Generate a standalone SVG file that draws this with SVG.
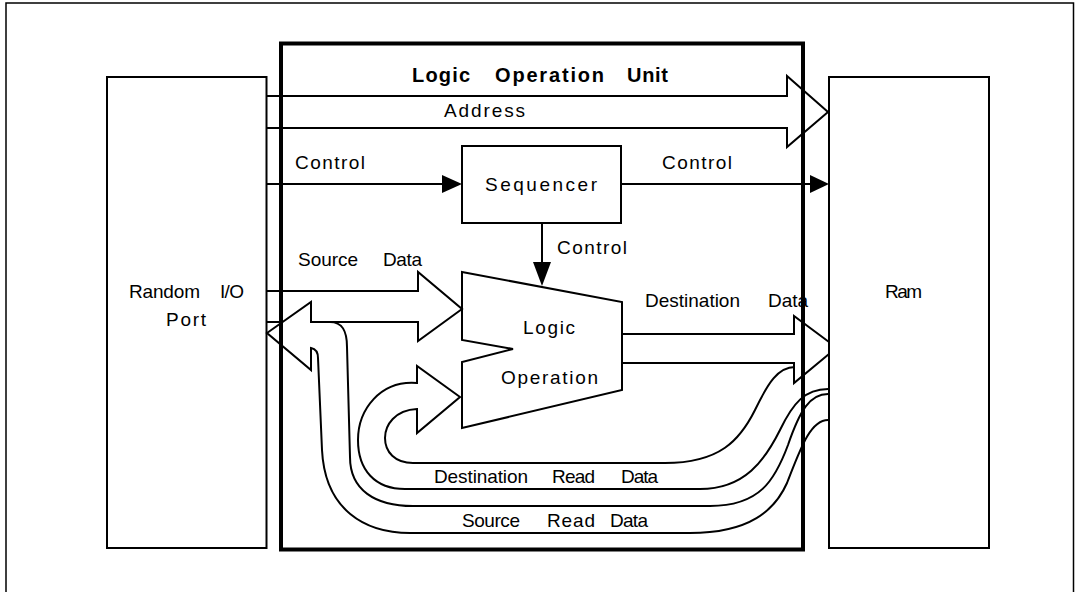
<svg xmlns="http://www.w3.org/2000/svg" width="1075" height="592" viewBox="0 0 1075 592">
<style>
  .box { fill: none; stroke: #000; stroke-width: 2; }
  .unit { fill: none; stroke: #000; stroke-width: 4; }
  .ln { fill: none; stroke: #000; stroke-width: 2; stroke-linejoin: miter; }
  .ah { fill: #000; stroke: none; }
  text { font-family: "Liberation Sans", Arial, sans-serif; font-size: 19px; fill: #000; }
  .title { font-weight: bold; font-size: 20px; }
</style>
<rect width="1075" height="592" fill="#fff"/>
<path d="M6,592 V3 H1073.5 V592" fill="none" stroke="#000" stroke-width="1.5"/>

<g id="random-io-port">
  <rect class="box" x="107" y="77" width="159.5" height="471"/>
  <text x="129" y="298" textLength="71" lengthAdjust="spacing">Random</text>
  <text x="220" y="298" textLength="24" lengthAdjust="spacing">I/O</text>
  <text x="166" y="326" textLength="40" lengthAdjust="spacing">Port</text>
</g>

<g id="ram">
  <rect class="box" x="829" y="77" width="160" height="471"/>
  <text x="885" y="298" textLength="37" lengthAdjust="spacing">Ram</text>
</g>

<g id="logic-operation-unit">
  <rect class="unit" x="281" y="43.5" width="522" height="506"/>
  <text class="title" x="412" y="82" textLength="58" lengthAdjust="spacing">Logic</text>
  <text class="title" x="495" y="82" textLength="109" lengthAdjust="spacing">Operation</text>
  <text class="title" x="627" y="82" textLength="41" lengthAdjust="spacing">Unit</text>
</g>

<g id="sequencer">
  <rect class="box" x="462" y="146" width="159" height="77"/>
  <text x="485" y="191" textLength="112" lengthAdjust="spacing">Sequencer</text>
</g>

<g id="logic-operation">
  <path class="ln" d="M462,272 L622,302 V390 L462,428 V362 L513,349 L462,340 Z"/>
  <text x="523" y="334" textLength="52" lengthAdjust="spacing">Logic</text>
  <text x="501" y="384" textLength="97" lengthAdjust="spacing">Operation</text>
</g>

<g id="connectors">
  <!-- Address bus -->
  <path class="ln" d="M266,96 H787 V76 L828,112 L787,147 V128 H266"/>
  <text x="444" y="117" textLength="81" lengthAdjust="spacing">Address</text>

  <!-- Control to sequencer -->
  <path class="ln" d="M266,184 H444"/>
  <path class="ah" d="M442,175 L462,184 L442,193 Z"/>
  <text x="295" y="169" textLength="70" lengthAdjust="spacing">Control</text>

  <!-- Control to Ram -->
  <path class="ln" d="M621,184 H812"/>
  <path class="ah" d="M810,175 L829,184 L810,193 Z"/>
  <text x="662" y="169" textLength="70" lengthAdjust="spacing">Control</text>

  <!-- Control down to logic operation -->
  <path class="ln" d="M542,223 V264"/>
  <path class="ah" d="M533,262 L551,262 L542,286 Z"/>
  <text x="557" y="254" textLength="70" lengthAdjust="spacing">Control</text>

  <!-- Source Data -->
  <path class="ln" d="M266,291 H418 V272 L462,309 L418,341 V322 H311"/>
  <path class="ln" d="M266,322 H282"/>
  <text x="298" y="266" textLength="60" lengthAdjust="spacing">Source</text>
  <text x="383" y="266" textLength="39" lengthAdjust="spacing">Data</text>

  <!-- Destination Data -->
  <path class="ln" d="M622,334 H794 V316 L829,342"/>
  <path class="ln" d="M622,363 H794 V383 L829,354"/>
  <text x="645" y="307" textLength="95" lengthAdjust="spacing">Destination</text>
  <text x="768" y="307" textLength="40" lengthAdjust="spacing">Data</text>

  <!-- Source Read Data (Ram back to Random I/O Port) -->
  <path class="ln" d="M828,394 C810,394 800,410 788,445 C775,480 760,506 710,506 H413 C375,506 350,490 350,457 L347,347 C347,330 342,322 330,322 H311 V302 L267,333 L311,370 V348 C316,349 318,352 318,358 L322,450 C325,510 365,533 410,533 H690 C750,533 775,510 787,483 C800,450 810,420 828,420"/>
  <text x="462" y="527" textLength="58" lengthAdjust="spacing">Source</text>
  <text x="547" y="527" textLength="48" lengthAdjust="spacing">Read</text>
  <text x="610" y="527" textLength="38" lengthAdjust="spacing">Data</text>

  <!-- Destination Read Data (Ram back into Logic Operation) -->
  <path class="ln" d="M828,389 C805,389 793,403 780,430 C765,460 745,489 700,489 H405 C375,489 358,470 358,440 C358,410 380,380 417,383 V366 L460,397 L417,433 V409 C395,410 385,425 385,438 C385,452 395,463 413,463 H665 C720,463 740,440 755,410 C768,383 778,367 795,367"/>
  <text x="434" y="483" textLength="94" lengthAdjust="spacing">Destination</text>
  <text x="552" y="483" textLength="43" lengthAdjust="spacing">Read</text>
  <text x="621" y="483" textLength="37" lengthAdjust="spacing">Data</text>
</g>
</svg>
